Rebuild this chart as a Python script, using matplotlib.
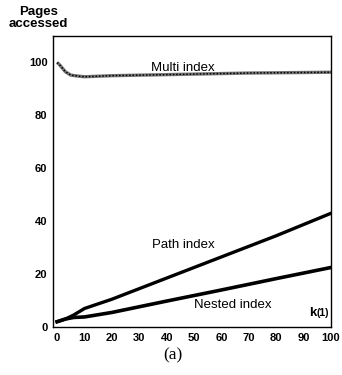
import numpy as np
import matplotlib
matplotlib.use("Agg")
import matplotlib.pyplot as plt

plt.rcParams['font.family'] = ['Liberation Sans', 'DejaVu Sans']

# valores
k_multi = [0, 1, 3, 5, 8, 10, 15, 20, 30, 40, 50, 60, 70, 80, 90, 100]
multi = [100, 99, 96.5, 95.2, 94.8, 94.6, 94.8, 95.0, 95.2, 95.4, 95.6, 95.8, 96.0, 96.1, 96.2, 96.3]

k_path = [0, 3, 6, 10, 20, 40, 60, 80, 100]
path = [2.0, 3.0, 4.5, 7.0, 10.5, 18.5, 26.5, 34.5, 43.0]

k_nested = [0, 3, 6, 10, 20, 40, 60, 80, 100]
nested = [2.0, 3.0, 3.6, 3.8, 5.5, 9.8, 14.0, 18.3, 22.5]

xticks = [0, 10, 20, 30, 40, 50, 60, 70, 80, 90, 100]
yticks = [0, 20, 40, 60, 80, 100]

fig = plt.figure(figsize=(3.42, 3.75), dpi=100)
ax = fig.add_axes([0.155, 0.128, 0.813, 0.776])

ax.plot(k_multi, multi, color="#777777", lw=2.4, solid_capstyle="butt")
ax.plot(k_multi, multi, color="black", lw=1.1, ls=(0, (1, 1.2)))
ax.plot(k_path, path, color="black", lw=2.4)
ax.plot(k_nested, nested, color="black", lw=2.6)

ax.set_xlim(-1.5, 100)
ax.set_ylim(0, 110)
ax.set_xticks(xticks)
ax.set_yticks(yticks)
ax.tick_params(length=0, labelsize=8, pad=4)
for lab in ax.get_xticklabels() + ax.get_yticklabels():
    lab.set_fontweight("bold")
for sp in ax.spines.values():
    sp.set_linewidth(1.0)

tk = dict(fontsize=9.5)
ax.text(46, 95.6, "Multi index", ha="center", va="bottom", **tk)
ax.text(46, 31, "Path index", ha="center", va="center", **tk)
ax.text(64, 8.3, "Nested index", ha="center", va="center", **tk)
ax.text(93.3, 5.3, "k", ha="center", va="center", fontsize=9.5, fontweight="bold")
ax.text(97.0, 5.3, "(1)", ha="center", va="center", fontsize=7.5, fontweight="bold")

fig.text(0.112, 0.92, "Pages\naccessed", ha="center", va="bottom",
         fontsize=9.5, fontweight="bold", linespacing=1.0)
fig.text(0.505, 0.053, "(a)", ha="center", va="center", fontsize=12.5,
         family="Liberation Serif")

fig.savefig("out.png", dpi=100)
